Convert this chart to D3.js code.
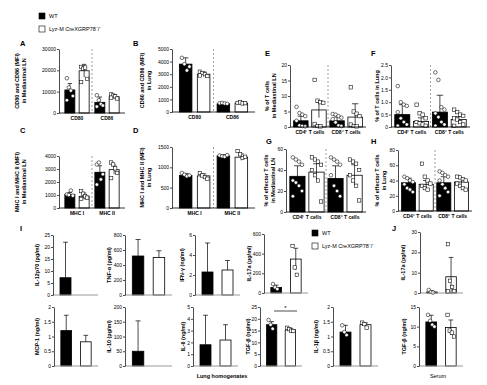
<!DOCTYPE html>
<html>
<head>
<meta charset="utf-8">
<script src="https://cdn.jsdelivr.net/npm/d3@7"></script>
<style>
  body { margin: 0; background: #fff; }
  svg { font-family: "Liberation Sans", Arial, sans-serif; }
  .axis path, .axis line { stroke: #000; stroke-width: 0.7; }
  .axis text { font-size: 5px; fill: #000; }
  .cat { font-size: 5px; font-weight: bold; }
  .ttl { font-size: 5.5px; font-weight: bold; }
  .lett { font-size: 7.5px; font-weight: bold; }
</style>
</head>
<body>
<svg id="fig" width="487" height="385"></svg>
<script>
// ---- data ----
var markerCats = ["CD80", "CD86"];
var mhcCats = ["MHC I", "MHC II"];
var tCats = ["CD4⁺ T cells", "CD8⁺ T cells"];

// A: CD80 / CD86 in mediastinal LN (MFI)
var aWT = [10800, 5000], aWTsd = [3000, 2500];
var aKO = [19800, 7600], aKOsd = [3000, 1000];
var aWTpts = [[16300, 12000, 10500, 8000, 6000], [8300, 6000, 4200, 3500, 3000]];
var aKOpts = [[21600, 20800, 21300, 16000, 14500], [8700, 8200, 7800, 6800, 7200]];

// B: CD80 / CD86 in lung (MFI)
var bWT = [3800, 650], bWTsd = [500, 80];
var bKO = [3000, 700], bKOsd = [180, 70];
var bWTpts = [[4300, 3800, 3300, 3600], [700, 720, 680, 650]];
var bKOpts = [[3200, 3100, 3000, 2850, 2900], [720, 760, 680, 700]];

// C: MHC I / II in mediastinal LN (MFI)
var cWT = [1050, 2750], cWTsd = [150, 500];
var cKO = [900, 2950], cKOsd = [250, 350];
var cWTpts = [[1050, 1000, 1350, 950], [3350, 3500, 2200, 2600, 1800]];
var cKOpts = [[1300, 1100, 900, 800, 700], [3500, 3350, 3050, 2700, 2300]];

// D: MHC I / II in lung (MFI)
var dWT = [800, 1280], dWTsd = [50, 30];
var dKO = [790, 1250], dKOsd = [50, 80];
var dWTpts = [[860, 820, 780, 800], [1290, 1270, 1260, 1300]];
var dKOpts = [[860, 800, 760, 720], [1400, 1320, 1230, 1260]];

// E: % of T cells in mediastinal LN
var eWT = [2.0, 2.0], eWTsd = [1.5, 1.2];
var eKO = [5.5, 3.2], eKOsd = [2.5, 4.3];
var eWTpts = [[6.5, 4.5, 4.0, 3.5, 2.0, 0.5, 0.3, 0.2], [4.2, 4.0, 3.5, 3.0, 2.5, 1.5, 0.5, 0.3]];
var eKOpts = [[15.2, 8.5, 8.0, 7.8, 1.0, 0.3, 0.2], [12.8, 5.0, 4.3, 3.5, 0.8, 0.3, 0.2]];

// F: % of T cells in lung
var fWT = [0.5, 0.6], fWTsd = [0.4, 0.68];
var fKO = [0.22, 0.3], fKOsd = [0.15, 0.12];
var fWTpts = [[1.65, 1.0, 0.9, 0.85, 0.6, 0.35, 0.2, 0.1, 0.05], [2.2, 1.9, 0.8, 0.7, 0.55, 0.4, 0.2, 0.1, 0.05]];
var fKOpts = [[0.9, 0.55, 0.5, 0.35, 0.2, 0.15, 0.1, 0.05], [0.7, 0.6, 0.5, 0.45, 0.35, 0.3, 0.2, 0.1, 0.05]];

// G: % of effector T cells in mediastinal LN
var gWT = [34, 32], gWTsd = [10, 12];
var gKO = [38, 35], gKOsd = [8, 10];
var gWTpts = [[52, 50, 48, 45, 30, 28, 25, 20, 15], [52, 50, 48, 45, 35, 25, 20, 15]];
var gKOpts = [[52, 50, 48, 45, 40, 35, 30, 10], [50, 48, 46, 40, 35, 30, 25, 11]];

// H: % of effector T cells in lung
var hWT = [37, 37], hWTsd = [6, 8];
var hKO = [35, 38], hKOsd = [5, 5];
var hWTpts = [[45, 43, 40, 38, 35, 30, 28, 25], [52, 50, 47, 45, 40, 35, 30, 25, 20]];
var hKOpts = [[62, 45, 40, 36, 33, 30, 28], [45, 44, 42, 40, 36, 33, 30, 28]];

// I: lung homogenates, J: serum  (values: [WT, KO])
var il12 = [7.2, 0], il12sd = [14.8, 0];
var tnf = [520, 500], tnfSd = [220, 90];
var ifng = [2.3, 2.5], ifngSd = [2.9, 0.95];
var il17 = [55, 345], il17sd = [25, 110];
var il17pts = [[91, 57, 40], [478, 260, 185]];
var mcp1 = [1.2, 0.82], mcp1sd = [0.52, 0.22];
var il10 = [50, 0], il10sd = [103, 0];
var il6 = [1.8, 2.2], il6sd = [2.5, 1.3];
var tgf = [17.5, 15.3], tgfSd = [1.3, 0.7];
var tgfPts = [[19.5, 17.5, 15.8], [16.2, 15.6, 15.0, 14.8]];
var il1b = [1.15, 1.4], il1bSd = [0.23, 0.06];
var il1bPts = [[1.38, 1.15, 1.05], [1.47, 1.42, 1.3]];
var il17s = [0.5, 8], il17sSd = [0.6, 9.5];
var il17sPts = [[1.5, 0.5, 0.2], [24, 6, 3, 1, 0.8]];
var tgfS = [11.2, 9.8], tgfSsd = [1.7, 1.9];
var tgfSpts = [[13, 11.5, 10.5, 10], [13, 9, 8.5, 7.5]];

var legendNames = ["WT", "Lyz-M CreXGRP78⁻/⁻"];

// ---- drawing ----
var svg = d3.select("#fig");
var groups = ["WT", "KO"];

function drawPanel(p) {
  var y = d3.scaleLinear().domain([0, p.max]).range([p.yBot, p.yTop]);
  var x = d3.scaleBand().domain(p.cats).range([p.x0, p.x1]).paddingOuter(p.po);
  var xg = d3.scaleBand().domain(groups).range([0, x.bandwidth()])
    .paddingInner(p.gi).paddingOuter(p.go);
  var g = svg.append("g");

  // dashed divider between the two categories
  if (p.cats.length > 1) {
    var dx = (x(p.cats[0]) + xg("KO") + xg.bandwidth() + x(p.cats[1]) + xg("WT")) / 2;
    g.append("line")
      .attr("x1", dx).attr("x2", dx).attr("y1", p.yTop).attr("y2", p.yBot)
      .attr("stroke", "#777").attr("stroke-width", 0.7).attr("stroke-dasharray", "2,2");
  }

  p.cats.forEach(function(c, i) {
    var bars = [
      {k: "WT", m: p.wt[i], sd: p.wtSd[i], pts: p.wtPts ? p.wtPts[i] : []},
      {k: "KO", m: p.ko[i], sd: p.koSd[i], pts: p.koPts ? p.koPts[i] : []}
    ];
    bars.forEach(function(b) {
      var bx = x(c) + xg(b.k), bw = xg.bandwidth(), cx = bx + bw / 2;
      if (b.m > 0) {
        g.append("rect")
          .attr("x", bx).attr("y", y(b.m))
          .attr("width", bw).attr("height", p.yBot - y(b.m))
          .attr("fill", b.k == "WT" ? "#000" : "#fff")
          .attr("stroke", "#000").attr("stroke-width", 0.8);
      }
      if (b.sd > 0) {
        var lo = p.up ? b.m : Math.max(0, b.m - b.sd);
        g.append("line").attr("x1", cx).attr("x2", cx)
          .attr("y1", y(lo)).attr("y2", y(b.m + b.sd))
          .attr("stroke", "#000").attr("stroke-width", 0.7);
        g.append("line").attr("x1", cx - bw * 0.22).attr("x2", cx + bw * 0.22)
          .attr("y1", y(b.m + b.sd)).attr("y2", y(b.m + b.sd))
          .attr("stroke", "#000").attr("stroke-width", 0.7);
      }
      b.pts.forEach(function(v, j) {
        var px = cx + ((j % 4) - 1.5) * bw * 0.2;
        if (b.k == "WT") {
          g.append("circle").attr("cx", px).attr("cy", y(v)).attr("r", 1.8)
            .attr("fill", "#fff").attr("stroke", "#000").attr("stroke-width", 0.55);
        } else {
          g.append("rect").attr("x", px - 1.7).attr("y", y(v) - 1.7)
            .attr("width", 3.4).attr("height", 3.4)
            .attr("fill", "#fff").attr("stroke", "#000").attr("stroke-width", 0.55);
        }
      });
    });
    if (c) {
      g.append("text").attr("class", "cat")
        .attr("x", x(c) + x.bandwidth() / 2).attr("y", p.yBot + 7)
        .attr("text-anchor", "middle").text(c);
    }
  });

  // axes
  g.append("line")
    .attr("x1", p.x0).attr("x2", p.x1).attr("y1", p.yBot).attr("y2", p.yBot)
    .attr("stroke", p.base || "#000").attr("stroke-width", p.base ? 1.1 : 0.8);
  g.append("g").attr("class", "axis")
    .attr("transform", "translate(" + p.x0 + ",0)")
    .call(d3.axisLeft(y)
      .tickValues(d3.range(0, p.max + p.step / 2, p.step))
      .tickSize(2).tickSizeOuter(0).tickPadding(1)
      .tickFormat(p.fmt || d3.format("")));

  // rotated y title
  var cy = (p.yTop + p.yBot) / 2;
  p.title.forEach(function(t, i) {
    g.append("text").attr("class", "ttl")
      .attr("transform", "translate(" + (p.tx + i * 7.5) + "," + cy + ") rotate(-90)")
      .attr("text-anchor", "middle").attr("dy", "0.35em").text(t);
  });
}

var fmt1 = function(d) { return d === 0 ? "0" : d.toFixed(1); };
var grp = {po: 0.1, gi: 0.3, go: 0.2};
var grpT = {po: 0.05, gi: 0.2, go: 0.1};
var one = {po: 0, gi: 0.45, go: 0.35, cats: [""]};

function cfg(base, extra) { return Object.assign({}, base, extra); }

drawPanel(cfg(grp, {cats: markerCats, x0: 59, x1: 125, yTop: 49, yBot: 113, max: 30000, step: 10000,
  wt: aWT, wtSd: aWTsd, ko: aKO, koSd: aKOsd, wtPts: aWTpts, koPts: aKOpts,
  title: ["CD80 and CD86 (MFI)", "in Mediastinal LN"], tx: 17}));
drawPanel(cfg(grp, {cats: markerCats, x0: 172, x1: 255, yTop: 49, yBot: 112, max: 5000, step: 1000,
  wt: bWT, wtSd: bWTsd, ko: bKO, koSd: bKOsd, wtPts: bWTpts, koPts: bKOpts,
  title: ["CD80 and CD86 (MFI)", "in Lung"], tx: 142}));
drawPanel(cfg(grp, {cats: mhcCats, x0: 59, x1: 125, yTop: 156, yBot: 208, max: 4000, step: 1000,
  wt: cWT, wtSd: cWTsd, ko: cKO, koSd: cKOsd, wtPts: cWTpts, koPts: cKOpts,
  title: ["MHC I and MHC II (MFI)", "in Mediastinal LN"], tx: 17}));
drawPanel(cfg(grp, {cats: mhcCats, x0: 172, x1: 255, yTop: 147, yBot: 208, max: 1500, step: 500,
  wt: dWT, wtSd: dWTsd, ko: dKO, koSd: dKOsd, wtPts: dWTpts, koPts: dKOpts,
  title: ["MHC I and MHC II (MFI)", "in Lung"], tx: 142}));
drawPanel(cfg(grpT, {cats: tCats, x0: 290, x1: 366, yTop: 65, yBot: 127, max: 20, step: 5,
  wt: eWT, wtSd: eWTsd, ko: eKO, koSd: eKOsd, wtPts: eWTpts, koPts: eKOpts,
  title: ["% of T cells", "in Mediastinal LN"], tx: 267}));
drawPanel(cfg(grpT, {cats: tCats, x0: 391, x1: 470, yTop: 65, yBot: 127, max: 2.5, step: 0.5, fmt: fmt1,
  wt: fWT, wtSd: fWTsd, ko: fKO, koSd: fKOsd, wtPts: fWTpts, koPts: fKOpts,
  title: ["% of T cells in Lung"], tx: 377}));
drawPanel(cfg(grpT, {cats: tCats, x0: 286, x1: 366, yTop: 149, yBot: 212, max: 60, step: 20,
  wt: gWT, wtSd: gWTsd, ko: gKO, koSd: gKOsd, wtPts: gWTpts, koPts: gKOpts,
  title: ["% of effector T cells", "in Mediastinal LN"], tx: 266}));
drawPanel(cfg(grpT, {cats: tCats, x0: 398, x1: 472, yTop: 150, yBot: 211, max: 80, step: 20,
  wt: hWT, wtSd: hWTsd, ko: hKO, koSd: hKOsd, wtPts: hWTpts, koPts: hKOpts,
  title: ["% of effector T cells", "in Lung"], tx: 377}));

// row I / J
function single(x0, x1, yTop, yBot, max, step, vals, sds, pts, title, tx) {
  drawPanel(cfg(one, {x0: x0, x1: x1, yTop: yTop, yBot: yBot, max: max, step: step,
    wt: [vals[0]], wtSd: [sds[0]], ko: [vals[1]], koSd: [sds[1]],
    wtPts: pts ? [pts[0]] : null, koPts: pts ? [pts[1]] : null, up: !pts,
    title: [title], tx: tx, base: "#999"}));
}
single(53, 98, 235, 295, 25, 5, il12, il12sd, null, "IL-12p70 (pg/ml)", 37);
single(125, 172, 235, 295, 800, 200, tnf, tnfSd, null, "TNF-α (pg/ml)", 109);
single(195, 240, 235, 295, 6, 2, ifng, ifngSd, null, "IFN-γ (ng/ml)", 182);
single(264, 308, 234, 293, 600, 200, il17, il17sd, il17pts, "IL-17a (pg/ml)", 249);
single(420, 463, 232, 293, 30, 10, il17s, il17sSd, il17sPts, "IL-17a (pg/ml)", 403);
single(54, 98, 307, 366, 2, 0.5, mcp1, mcp1sd, null, "MCP-1 (ng/ml)", 37);
single(125, 172, 307, 366, 200, 50, il10, il10sd, null, "IL-10 (pg/ml)", 109);
single(193, 238, 307, 366, 5, 1, il6, il6sd, null, "IL-6 (ng/ml)", 183);
single(260, 302, 307, 366, 25, 5, tgf, tgfSd, tgfPts, "TGF-β (ng/ml)", 248);
single(333, 378, 307, 366, 2, 0.5, il1b, il1bSd, il1bPts, "IL-1β (ng/ml)", 316);
single(419, 463, 307, 366, 15, 5, tgfS, tgfSsd, tgfSpts, "TGF-β (ng/ml)", 404);

// significance bracket on lung TGF-β
svg.append("line").attr("x1", 274).attr("x2", 297).attr("y1", 311).attr("y2", 311)
  .attr("stroke", "#000").attr("stroke-width", 0.7);
svg.append("text").attr("x", 285.5).attr("y", 310).attr("text-anchor", "middle")
  .style("font-size", "6px").text("*");

// panel letters
[["A", 20, 46], ["B", 133, 46], ["C", 20, 133], ["D", 133, 133], ["E", 265, 56], ["F", 371, 56],
 ["G", 266, 144], ["H", 371, 144], ["I", 20, 231], ["J", 392, 231]].forEach(function(l) {
  svg.append("text").attr("class", "lett").attr("x", l[1]).attr("y", l[2]).text(l[0]);
});

// legends
function legend(lx, ly) {
  legendNames.forEach(function(n, i) {
    svg.append("rect").attr("x", lx).attr("y", ly + i * 13).attr("width", 6).attr("height", 6)
      .attr("fill", i ? "#fff" : "#000").attr("stroke", "#000").attr("stroke-width", 0.6);
    svg.append("text").attr("x", lx + 10).attr("y", ly + i * 13 + 5)
      .style("font-size", "5.5px").text(n);
  });
}
legend(39, 13);
legend(312, 230);

svg.append("text").attr("x", 222).attr("y", 378).attr("text-anchor", "middle")
  .style("font-size", "5.5px").style("font-weight", "bold").text("Lung homogenates");
svg.append("text").attr("x", 438).attr("y", 378).attr("text-anchor", "middle")
  .style("font-size", "5.5px").text("Serum");
</script>
</body>
</html>
